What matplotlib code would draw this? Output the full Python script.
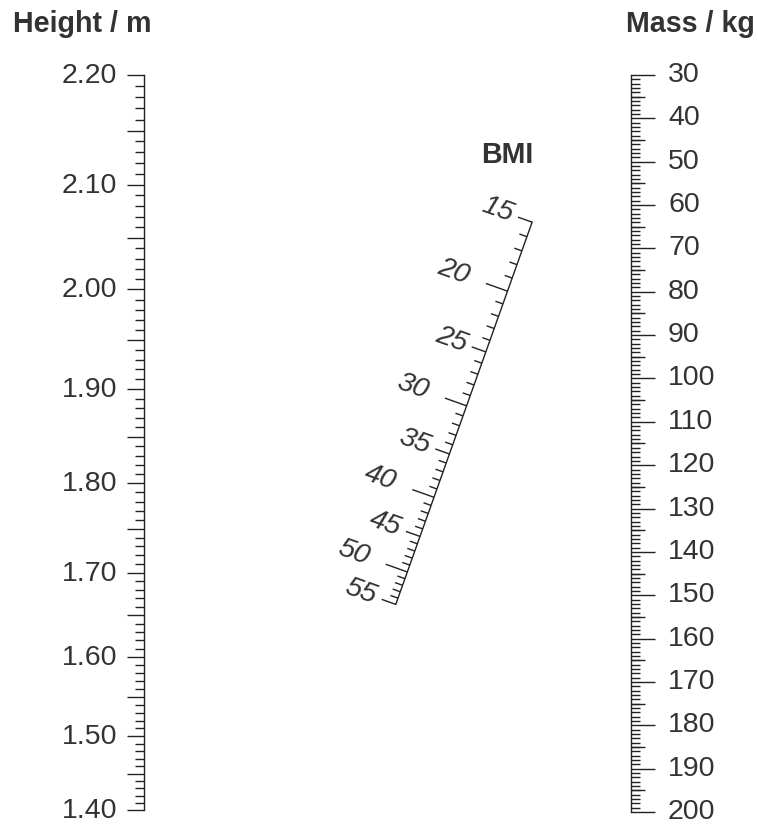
"""BMI nomogram: height (left), mass (right), BMI on the slanted middle scale."""

import numpy as np
import matplotlib
matplotlib.use("Agg")
import matplotlib.pyplot as plt  # noqa: E402
from matplotlib.ticker import FixedLocator, FuncFormatter, NullFormatter  # noqa: E402
from matplotlib.transforms import ScaledTranslation  # noqa: E402

plt.rcParams["font.family"] = ["Liberation Sans", "DejaVu Sans"]

# === DATA ===
HEIGHT_RANGE = (1.40, 2.20)
HEIGHT_LABELS = [1.40, 1.50, 1.60, 1.70, 1.80, 1.90, 2.00, 2.10, 2.20]
HEIGHT_HALF = [1.45, 1.55, 1.65, 1.75, 1.85, 1.95, 2.05, 2.15]
MASS_RANGE = (30, 200)
MASS_LABELS = [30, 40, 50, 60, 70, 80, 90, 100, 110, 120, 130, 140, 150,
               160, 170, 180, 190, 200]
MASS_HALF = [35, 45, 55, 65, 75, 85, 95, 105, 115, 125, 135, 145, 155,
             165, 175, 185, 195]
BMI_RANGE = (15, 55)
BMI_LABELS = [15, 20, 25, 30, 35, 40, 45, 50, 55]

# === LAYOUT (pixels) ===
W, H = 758, 825
H_AXIS_X, M_AXIS_X = 144, 631
H_TOP_Y, H_BOT_Y = 75, 810
M_TOP_Y, M_BOT_Y = 75, 812
INK = "#222222"
TXT = "#333333"
PT = 72 / 100  # points per pixel at dpi 100
LABEL_SIZE = 20.5
TITLE_SIZE = 20.6


def rect(x0, y_top, w, y_bot):
    return [x0 / W, 1 - y_bot / H, w / W, (y_bot - y_top) / H]


fig = plt.figure(figsize=(W / 100, H / 100), dpi=100)
ax_b = fig.add_axes([0, 0, 1, 1])
ax_b.set_xlim(0, W)
ax_b.set_ylim(0, H)
ax_b.axis("off")


def bare(ax):
    ax.set_facecolor("none")
    for s in ax.spines.values():
        s.set_visible(False)
    ax.set_xticks([])


def lift_labels(ax, px):
    shift = ScaledTranslation(0, px / 100, fig.dpi_scale_trans)
    for lab in ax.get_yticklabels():
        lab.set_transform(lab.get_transform() + shift)


# --- height scale (linear in h^2) ---
ax_h = fig.add_axes(rect(H_AXIS_X, H_TOP_Y, 8, H_BOT_Y))
bare(ax_h)
ax_h.spines["left"].set_visible(True)
ax_h.spines["left"].set_color(INK)
ax_h.spines["left"].set_linewidth(1.0)
ax_h.set_yscale("function", functions=(lambda h: np.asarray(h) ** 2,
                                       lambda s: np.sqrt(np.clip(s, 0, None))))
ax_h.set_ylim(*HEIGHT_RANGE)
ax_h.yaxis.set_major_locator(FixedLocator(sorted(HEIGHT_LABELS + HEIGHT_HALF)))
ax_h.yaxis.set_major_formatter(FuncFormatter(
    lambda v, _: f"{v:.2f}" if any(abs(v - l) < 1e-6 for l in HEIGHT_LABELS) else ""))
ax_h.yaxis.set_minor_locator(FixedLocator(np.round(np.arange(1.40, 2.2001, 0.01), 2)))
ax_h.yaxis.set_minor_formatter(NullFormatter())
ax_h.tick_params(axis="y", which="major", length=17 * PT, width=1.0, color=INK,
                 pad=10 * PT, labelsize=LABEL_SIZE, labelcolor=TXT)
ax_h.tick_params(axis="y", which="minor", length=9 * PT, width=1.0, color=INK)
lift_labels(ax_h, 2)

# --- mass scale (linear, inverted) ---
mass_rect = rect(M_AXIS_X - 8, M_TOP_Y, 8, M_BOT_Y)
ax_m = fig.add_axes(mass_rect)
bare(ax_m)
ax_m.spines["right"].set_visible(True)
ax_m.spines["right"].set_color(INK)
ax_m.spines["right"].set_linewidth(1.0)
ax_m.set_ylim(MASS_RANGE[1], MASS_RANGE[0])
ax_m.yaxis.tick_right()
ax_m.yaxis.set_major_locator(FixedLocator(MASS_LABELS))
ax_m.yaxis.set_minor_locator(FixedLocator(np.arange(MASS_RANGE[0], MASS_RANGE[1] + 1, 1)))
ax_m.yaxis.set_minor_formatter(NullFormatter())
ax_m.tick_params(axis="y", which="major", length=24 * PT, width=1.0, color=INK,
                 pad=13 * PT, labelsize=LABEL_SIZE, labelcolor=TXT)
ax_m.tick_params(axis="y", which="minor", length=8.7 * PT, width=1.0, color=INK)
lift_labels(ax_m, 3)

ax_m5 = fig.add_axes(mass_rect)
bare(ax_m5)
ax_m5.set_ylim(MASS_RANGE[1], MASS_RANGE[0])
ax_m5.yaxis.tick_right()
ax_m5.yaxis.set_major_locator(FixedLocator(MASS_HALF))
ax_m5.yaxis.set_major_formatter(NullFormatter())
ax_m5.tick_params(axis="y", which="major", length=14 * PT, width=1.0, color=INK)

# --- BMI scale: intersection of two isopleths for each BMI value ---
to_b = ax_b.transData.inverted()


def bmi_point(b):
    segs = []
    for h in HEIGHT_RANGE:
        p = ax_h.transData.transform((ax_h.get_xlim()[0], h))
        q = ax_m.transData.transform((ax_m.get_xlim()[1], b * h * h))
        segs.append((p, q))
    (p1, q1), (p2, q2) = segs
    d1, d2 = q1 - p1, q2 - p2
    a = np.array([d1, -d2]).T
    s, _ = np.linalg.solve(a, p2 - p1)
    return to_b.transform(p1 + s * d1)


start, end = bmi_point(BMI_RANGE[0]), bmi_point(BMI_RANGE[1])
ax_b.plot([start[0], end[0]], [start[1], end[1]], color=INK, lw=1.0)
along = (end - start) / np.hypot(*(end - start))
normal = np.array([along[1], -along[0]])  # points left / up
if normal[0] > 0:
    normal = -normal
rot = np.degrees(np.arctan2(-normal[1], -normal[0]))

for b in range(BMI_RANGE[0], BMI_RANGE[1] + 1):
    base = bmi_point(b)
    if b % 10 == 0:
        length, dist = 23, 57
    elif b % 5 == 0:
        length, dist = 15, 37
    else:
        length, dist = 8, None
    tip = base + normal * length
    ax_b.plot([base[0], tip[0]], [base[1], tip[1]], color=INK, lw=1.0,
              solid_capstyle="butt")
    if dist is not None and b in BMI_LABELS:
        lab = base + normal * dist
        ax_b.text(lab[0], lab[1], f"{b}", fontsize=20.5, style="italic", color=TXT,
                  ha="center", va="center", rotation=rot, rotation_mode="anchor")

# --- titles ---
fig.text(13 / W, 1 - 32 / H, "Height / m", ha="left", va="baseline",
         fontsize=TITLE_SIZE, weight="bold", color=TXT)
fig.text(755 / W, 1 - 32 / H, "Mass / kg", ha="right", va="baseline",
         fontsize=TITLE_SIZE, weight="bold", color=TXT)
fig.text(507 / W, 1 - 163 / H, "BMI", ha="center", va="baseline",
         fontsize=TITLE_SIZE, weight="bold", color=TXT)

fig.savefig("out.png", dpi=100)
